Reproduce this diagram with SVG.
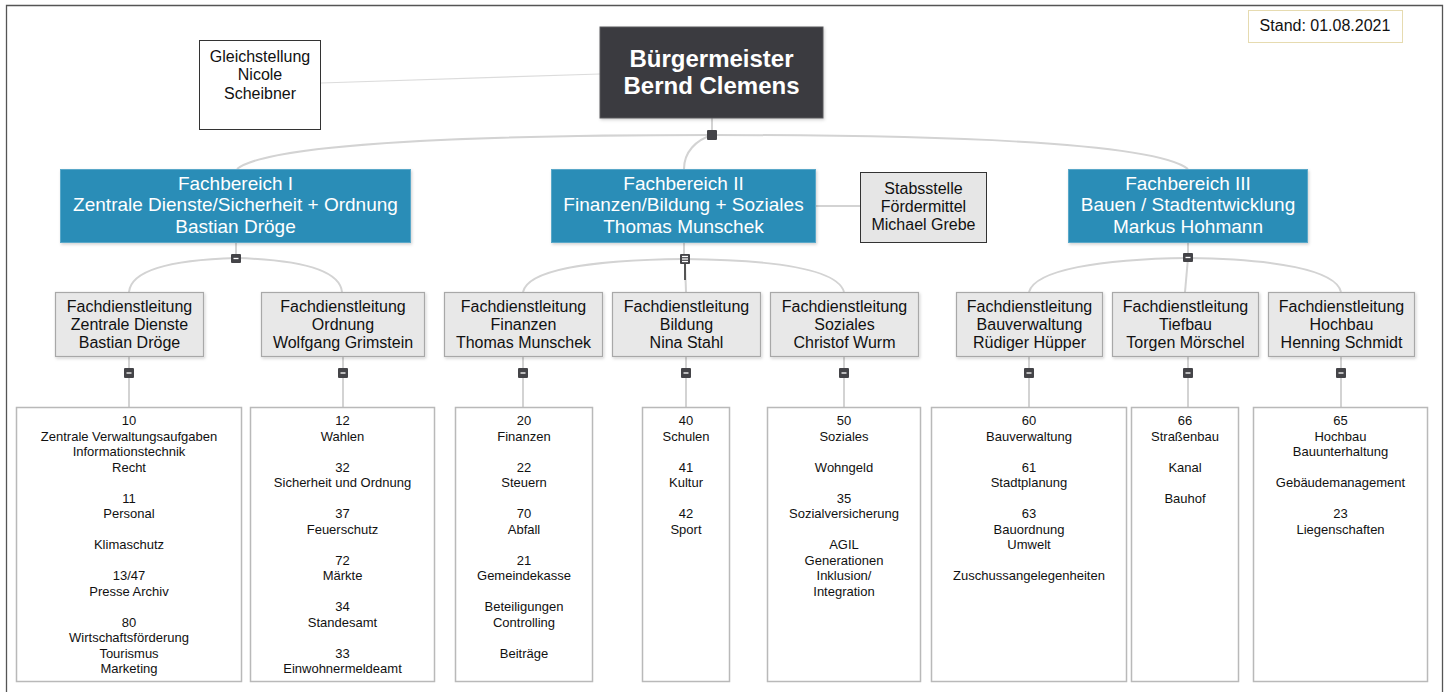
<svg xmlns="http://www.w3.org/2000/svg" width="1449" height="692" viewBox="0 0 1449 692">
<style>
text{font-family:"Liberation Sans",Arial,sans-serif;text-anchor:middle}
.conn{fill:none;stroke:#d3d3d3;stroke-width:2}
.icon{fill:#444448}
.minus{stroke:#fff;stroke-width:1.3}
.fb rect{fill:#2b8db7;stroke:#5aa8c9;stroke-width:1}
.fb text{fill:#fff;font-size:19px}
.fdl rect{fill:#e8e8e8;stroke:#a8a8a8;stroke-width:1.2}
.fdl text{fill:#111;font-size:16px}
.box rect{fill:#fff;stroke:#b9b9b9;stroke-width:1.5}
.box text{fill:#111;font-size:13px}
</style>
<defs>
<filter id="sh" x="-10%" y="-10%" width="120%" height="130%">
<feDropShadow dx="1" dy="1.5" stdDeviation="1.5" flood-color="#000" flood-opacity="0.18"/>
</filter>
</defs>
<rect width="1449" height="692" fill="#fff"/>
<path d="M6.5,692 V5.5 H1442.5 V692" fill="none" stroke="#555" stroke-width="1.3"/>

<g id="connectors">
<line x1="321" y1="83" x2="600" y2="74" stroke="#dcdcdc" stroke-width="1.2"/>
<line class="conn" x1="712" y1="118" x2="712" y2="135"/>
<path class="conn" d="M712,135 C 480,135 270,143 237,169"/>
<path class="conn" d="M712,135 C 950,135 1155,143 1188,169"/>
<path class="conn" d="M712,135 C 696,140 684,152 684,169"/>
<line class="conn" x1="816" y1="206" x2="860" y2="206" stroke-width="1.5"/>
<line class="conn" x1="236" y1="243" x2="236" y2="258"/>
<path class="conn" d="M236,258 C 165,260 131,272 129,292"/>
<path class="conn" d="M236,258 C 307,260 340,272 342,292"/>
<line class="conn" x1="684" y1="243" x2="684" y2="259"/>
<path class="conn" d="M684,259 C 590,260 528,270 523,292"/>
<path class="conn" d="M684,259 C 780,260 838,270 844,292"/>
<line class="conn" x1="685" y1="263" x2="686" y2="292"/>
<line x1="685" y1="263" x2="685" y2="280" stroke="#333" stroke-width="1.6"/>
<line class="conn" x1="1188" y1="243" x2="1188" y2="258"/>
<path class="conn" d="M1188,258 C 1100,259 1035,270 1029,292"/>
<path class="conn" d="M1188,258 C 1275,259 1336,270 1341,292"/>
<line class="conn" x1="1188" y1="258" x2="1185" y2="292"/>
<line class="conn" x1="129" y1="357" x2="129" y2="407"/>
<line class="conn" x1="343" y1="357" x2="343" y2="407"/>
<line class="conn" x1="523" y1="357" x2="523" y2="407"/>
<line class="conn" x1="686" y1="357" x2="686" y2="407"/>
<line class="conn" x1="844" y1="357" x2="844" y2="407"/>
<line class="conn" x1="1029" y1="357" x2="1029" y2="407"/>
<line class="conn" x1="1188" y1="357" x2="1188" y2="407"/>
<line class="conn" x1="1341" y1="357" x2="1341" y2="407"/>
<rect class="icon" x="707" y="130" width="10" height="10" rx="1"/>
<rect class="icon" x="231" y="254" width="10" height="9" rx="1"/><line class="minus" x1="233.5" y1="258.5" x2="238.5" y2="258.5"/>
<rect class="icon" x="680" y="254" width="10" height="10" rx="1"/>
<line class="minus" x1="682" y1="256.5" x2="688" y2="256.5" stroke-width="1"/><line class="minus" x1="682" y1="259" x2="688" y2="259" stroke-width="1"/><line class="minus" x1="682" y1="261.5" x2="688" y2="261.5" stroke-width="1"/>
<rect class="icon" x="1183" y="253" width="10" height="9" rx="1"/><line class="minus" x1="1185.5" y1="257.5" x2="1190.5" y2="257.5"/>
<g>
<rect class="icon" x="124" y="368" width="10" height="10" rx="1"/><line class="minus" x1="126.5" y1="373" x2="131.5" y2="373"/>
<rect class="icon" x="338" y="368" width="10" height="10" rx="1"/><line class="minus" x1="340.5" y1="373" x2="345.5" y2="373"/>
<rect class="icon" x="518" y="368" width="10" height="10" rx="1"/><line class="minus" x1="520.5" y1="373" x2="525.5" y2="373"/>
<rect class="icon" x="681" y="368" width="10" height="10" rx="1"/><line class="minus" x1="683.5" y1="373" x2="688.5" y2="373"/>
<rect class="icon" x="839" y="368" width="10" height="10" rx="1"/><line class="minus" x1="841.5" y1="373" x2="846.5" y2="373"/>
<rect class="icon" x="1024" y="368" width="10" height="10" rx="1"/><line class="minus" x1="1026.5" y1="373" x2="1031.5" y2="373"/>
<rect class="icon" x="1183" y="368" width="10" height="10" rx="1"/><line class="minus" x1="1185.5" y1="373" x2="1190.5" y2="373"/>
<rect class="icon" x="1336" y="368" width="10" height="10" rx="1"/><line class="minus" x1="1338.5" y1="373" x2="1343.5" y2="373"/>
</g>
</g>

<g id="stand">
<rect x="1248.5" y="10.5" width="154" height="32" fill="#fff" stroke="#e6dbb0" stroke-width="1"/>
<text x="1325" y="31" font-size="16" fill="#111">Stand: 01.08.2021</text>
</g>

<g id="buergermeister">
<rect x="600" y="27" width="223" height="91" fill="#3b3b3f" stroke="#5a5a5e" filter="url(#sh)"/>
<text x="711.5" y="66.5" font-size="24" font-weight="bold" fill="#fff">Bürgermeister</text>
<text x="711.5" y="93.5" font-size="24" font-weight="bold" fill="#fff">Bernd Clemens</text>
</g>

<g id="gleichstellung">
<rect x="199.5" y="40.5" width="121" height="89" fill="#fff" stroke="#333" stroke-width="1"/>
<text x="260" y="61.5" font-size="16" fill="#111">Gleichstellung</text>
<text x="260" y="80" font-size="16" fill="#111">Nicole</text>
<text x="260" y="98.5" font-size="16" fill="#111">Scheibner</text>
</g>

<g id="stabsstelle">
<rect x="860.5" y="172.5" width="126" height="70" fill="#e6e6e6" stroke="#333" stroke-width="1"/>
<text x="923.5" y="193.5" font-size="16" fill="#111">Stabsstelle</text>
<text x="923.5" y="212" font-size="16" fill="#111">Fördermittel</text>
<text x="923.5" y="230" font-size="16" fill="#111">Michael Grebe</text>
</g>

<g id="fb1" class="fb">
<rect x="60.5" y="169.5" width="350" height="73" filter="url(#sh)"/>
<text x="235.5" y="190">Fachbereich I</text>
<text x="235.5" y="211">Zentrale Dienste/Sicherheit + Ordnung</text>
<text x="235.5" y="233">Bastian Dröge</text>
</g>
<g id="fb2" class="fb">
<rect x="551.5" y="169.5" width="264" height="73" filter="url(#sh)"/>
<text x="683.5" y="190">Fachbereich II</text>
<text x="683.5" y="211">Finanzen/Bildung + Soziales</text>
<text x="683.5" y="233">Thomas Munschek</text>
</g>
<g id="fb3" class="fb">
<rect x="1068.5" y="169.5" width="239" height="73" filter="url(#sh)"/>
<text x="1188" y="190">Fachbereich III</text>
<text x="1188" y="211">Bauen / Stadtentwicklung</text>
<text x="1188" y="233">Markus Hohmann</text>
</g>

<g id="fdl-zentrale" class="fdl">
<rect x="55.5" y="292.5" width="148" height="64" filter="url(#sh)"/>
<text x="129.5" y="311.5">Fachdienstleitung</text><text x="129.5" y="330">Zentrale Dienste</text><text x="129.5" y="348">Bastian Dröge</text>
</g>
<g id="fdl-ordnung" class="fdl">
<rect x="261.5" y="292.5" width="163" height="64" filter="url(#sh)"/>
<text x="343" y="311.5">Fachdienstleitung</text><text x="343" y="330">Ordnung</text><text x="343" y="348">Wolfgang Grimstein</text>
</g>
<g id="fdl-finanzen" class="fdl">
<rect x="444.5" y="292.5" width="158" height="64" filter="url(#sh)"/>
<text x="523.5" y="311.5">Fachdienstleitung</text><text x="523.5" y="330">Finanzen</text><text x="523.5" y="348">Thomas Munschek</text>
</g>
<g id="fdl-bildung" class="fdl">
<rect x="612.5" y="292.5" width="148" height="64" filter="url(#sh)"/>
<text x="686.5" y="311.5">Fachdienstleitung</text><text x="686.5" y="330">Bildung</text><text x="686.5" y="348">Nina Stahl</text>
</g>
<g id="fdl-soziales" class="fdl">
<rect x="770.5" y="292.5" width="148" height="64" filter="url(#sh)"/>
<text x="844.5" y="311.5">Fachdienstleitung</text><text x="844.5" y="330">Soziales</text><text x="844.5" y="348">Christof Wurm</text>
</g>
<g id="fdl-bauverwaltung" class="fdl">
<rect x="956.5" y="292.5" width="146" height="64" filter="url(#sh)"/>
<text x="1029.5" y="311.5">Fachdienstleitung</text><text x="1029.5" y="330">Bauverwaltung</text><text x="1029.5" y="348">Rüdiger Hüpper</text>
</g>
<g id="fdl-tiefbau" class="fdl">
<rect x="1112.5" y="292.5" width="146" height="64" filter="url(#sh)"/>
<text x="1185.5" y="311.5">Fachdienstleitung</text><text x="1185.5" y="330">Tiefbau</text><text x="1185.5" y="348">Torgen Mörschel</text>
</g>
<g id="fdl-hochbau" class="fdl">
<rect x="1268.5" y="292.5" width="146" height="64" filter="url(#sh)"/>
<text x="1341.5" y="311.5">Fachdienstleitung</text><text x="1341.5" y="330">Hochbau</text><text x="1341.5" y="348">Henning Schmidt</text>
</g>

<g id="box-fd1" class="box">
<rect x="16.5" y="407.5" width="225" height="274"/>
<text x="129"><tspan x="129" y="425">10</tspan><tspan x="129" y="440.5">Zentrale Verwaltungsaufgaben</tspan><tspan x="129" y="456">Informationstechnik</tspan><tspan x="129" y="471.5">Recht</tspan><tspan x="129" y="502.5">11</tspan><tspan x="129" y="518">Personal</tspan><tspan x="129" y="549">Klimaschutz</tspan><tspan x="129" y="580">13/47</tspan><tspan x="129" y="595.5">Presse Archiv</tspan><tspan x="129" y="626.5">80</tspan><tspan x="129" y="642">Wirtschaftsförderung</tspan><tspan x="129" y="657.5">Tourismus</tspan><tspan x="129" y="673">Marketing</tspan></text>
</g>
<g id="box-fd2" class="box">
<rect x="250.5" y="407.5" width="184" height="274"/>
<text x="342.5"><tspan x="342.5" y="425">12</tspan><tspan x="342.5" y="440.5">Wahlen</tspan><tspan x="342.5" y="471.5">32</tspan><tspan x="342.5" y="487">Sicherheit und Ordnung</tspan><tspan x="342.5" y="518">37</tspan><tspan x="342.5" y="533.5">Feuerschutz</tspan><tspan x="342.5" y="564.5">72</tspan><tspan x="342.5" y="580">Märkte</tspan><tspan x="342.5" y="611">34</tspan><tspan x="342.5" y="626.5">Standesamt</tspan><tspan x="342.5" y="657.5">33</tspan><tspan x="342.5" y="673">Einwohnermeldeamt</tspan></text>
</g>
<g id="box-fd3" class="box">
<rect x="455.5" y="407.5" width="137" height="274"/>
<text x="524"><tspan x="524" y="425">20</tspan><tspan x="524" y="440.5">Finanzen</tspan><tspan x="524" y="471.5">22</tspan><tspan x="524" y="487">Steuern</tspan><tspan x="524" y="518">70</tspan><tspan x="524" y="533.5">Abfall</tspan><tspan x="524" y="564.5">21</tspan><tspan x="524" y="580">Gemeindekasse</tspan><tspan x="524" y="611">Beteiligungen</tspan><tspan x="524" y="626.5">Controlling</tspan><tspan x="524" y="657.5">Beiträge</tspan></text>
</g>
<g id="box-fd4" class="box">
<rect x="642.5" y="407.5" width="87" height="274"/>
<text x="686"><tspan x="686" y="425">40</tspan><tspan x="686" y="440.5">Schulen</tspan><tspan x="686" y="471.5">41</tspan><tspan x="686" y="487">Kultur</tspan><tspan x="686" y="518">42</tspan><tspan x="686" y="533.5">Sport</tspan></text>
</g>
<g id="box-fd5" class="box">
<rect x="767.5" y="407.5" width="153" height="274"/>
<text x="844"><tspan x="844" y="425">50</tspan><tspan x="844" y="440.5">Soziales</tspan><tspan x="844" y="471.5">Wohngeld</tspan><tspan x="844" y="502.5">35</tspan><tspan x="844" y="518">Sozialversicherung</tspan><tspan x="844" y="549">AGIL</tspan><tspan x="844" y="564.5">Generationen</tspan><tspan x="844" y="580">Inklusion/</tspan><tspan x="844" y="595.5">Integration</tspan></text>
</g>
<g id="box-fd6" class="box">
<rect x="931.5" y="407.5" width="195" height="274"/>
<text x="1029"><tspan x="1029" y="425">60</tspan><tspan x="1029" y="440.5">Bauverwaltung</tspan><tspan x="1029" y="471.5">61</tspan><tspan x="1029" y="487">Stadtplanung</tspan><tspan x="1029" y="518">63</tspan><tspan x="1029" y="533.5">Bauordnung</tspan><tspan x="1029" y="549">Umwelt</tspan><tspan x="1029" y="580">Zuschussangelegenheiten</tspan></text>
</g>
<g id="box-fd7" class="box">
<rect x="1131.5" y="407.5" width="107" height="274"/>
<text x="1185"><tspan x="1185" y="425">66</tspan><tspan x="1185" y="440.5">Straßenbau</tspan><tspan x="1185" y="471.5">Kanal</tspan><tspan x="1185" y="502.5">Bauhof</tspan></text>
</g>
<g id="box-fd8" class="box">
<rect x="1253.5" y="407.5" width="174" height="274"/>
<text x="1340.5"><tspan x="1340.5" y="425">65</tspan><tspan x="1340.5" y="440.5">Hochbau</tspan><tspan x="1340.5" y="456">Bauunterhaltung</tspan><tspan x="1340.5" y="487">Gebäudemanagement</tspan><tspan x="1340.5" y="518">23</tspan><tspan x="1340.5" y="533.5">Liegenschaften</tspan></text>
</g>
</svg>
